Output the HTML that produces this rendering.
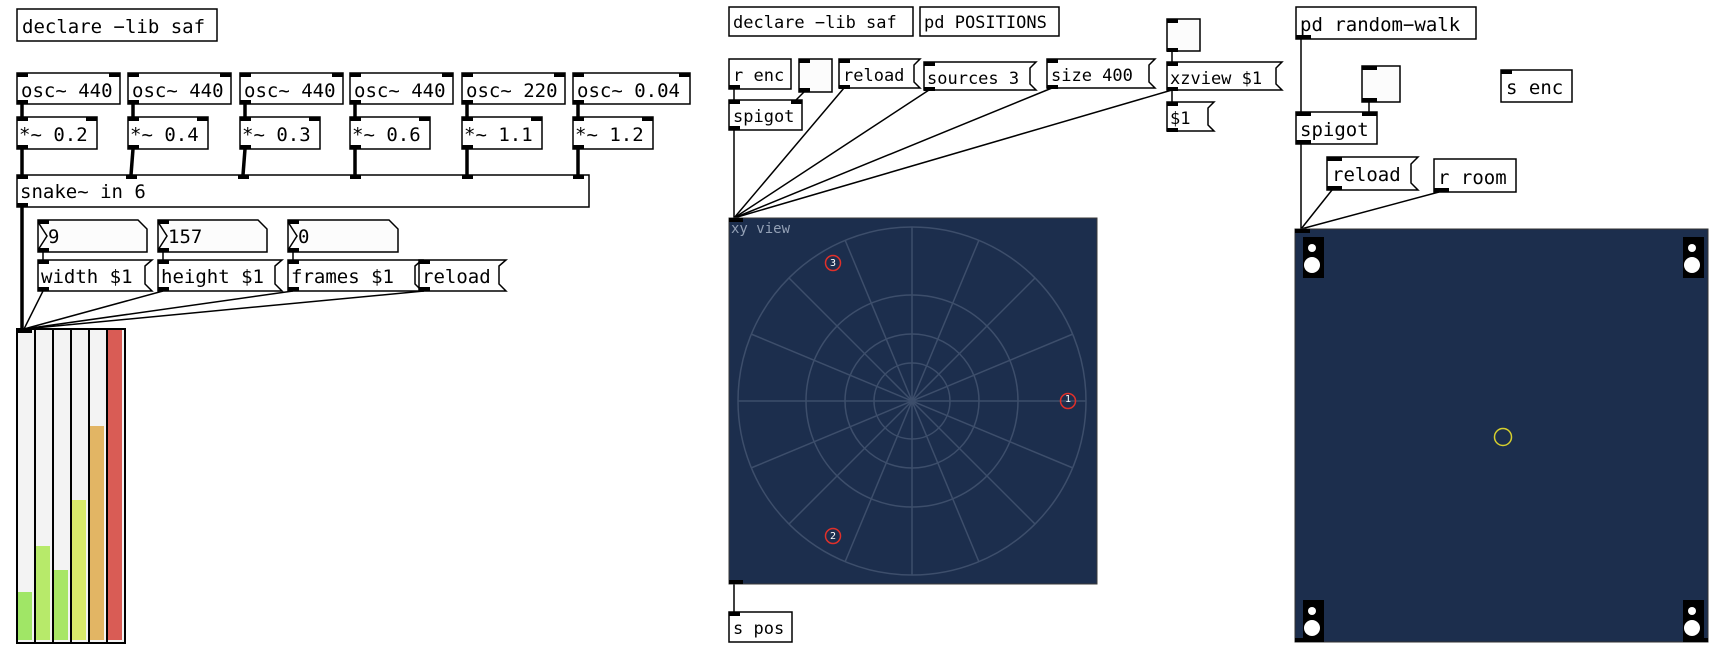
<!DOCTYPE html>
<html><head><meta charset="utf-8"><style>
html,body{margin:0;padding:0;background:#fff;width:1725px;height:656px;overflow:hidden}
text{font-family:"DejaVu Sans Mono","Liberation Mono",monospace;fill:#000}
.b{fill:#fff;stroke:#000;stroke-width:1.5}
.t{fill:#fcfcfc;stroke:#000;stroke-width:1.5}
.io{fill:#000}
.c{stroke:#000;stroke-width:1.5;fill:none}
.s{stroke:#000;stroke-width:3.5;fill:none}
.g{stroke:#3d4e6b;stroke-width:1.5;fill:none}
</style></head><body>
<svg width="1725" height="656" viewBox="0 0 1725 656" xmlns="http://www.w3.org/2000/svg">
<!-- ============ LEFT ============ -->
<rect class="b" x="17" y="9" width="200" height="32"/>
<text x="22" y="33" font-size="19">declare −lib saf</text>

<g font-size="19">
<rect class="b" x="17" y="73" width="103" height="31"/><text x="21" y="97">osc~ 440</text>
<rect class="b" x="128" y="73" width="103" height="31"/><text x="132" y="97">osc~ 440</text>
<rect class="b" x="240" y="73" width="103" height="31"/><text x="244" y="97">osc~ 440</text>
<rect class="b" x="350" y="73" width="103" height="31"/><text x="354" y="97">osc~ 440</text>
<rect class="b" x="462" y="73" width="103" height="31"/><text x="466" y="97">osc~ 220</text>
<rect class="b" x="573" y="73" width="117" height="31"/><text x="577" y="97">osc~ 0.04</text>
</g>
<g class="io">
<rect x="17" y="73" width="11" height="4"/><rect x="109" y="73" width="11" height="4"/><rect x="17" y="100" width="11" height="4"/>
<rect x="128" y="73" width="11" height="4"/><rect x="220" y="73" width="11" height="4"/><rect x="128" y="100" width="11" height="4"/>
<rect x="240" y="73" width="11" height="4"/><rect x="332" y="73" width="11" height="4"/><rect x="240" y="100" width="11" height="4"/>
<rect x="350" y="73" width="11" height="4"/><rect x="442" y="73" width="11" height="4"/><rect x="350" y="100" width="11" height="4"/>
<rect x="462" y="73" width="11" height="4"/><rect x="554" y="73" width="11" height="4"/><rect x="462" y="100" width="11" height="4"/>
<rect x="573" y="73" width="11" height="4"/><rect x="679" y="73" width="11" height="4"/><rect x="573" y="100" width="11" height="4"/>
</g>
<g font-size="19">
<rect class="b" x="17" y="117" width="80" height="32"/><text x="19" y="141">*~ 0.2</text>
<rect class="b" x="128" y="117" width="80" height="32"/><text x="130" y="141">*~ 0.4</text>
<rect class="b" x="240" y="117" width="80" height="32"/><text x="242" y="141">*~ 0.3</text>
<rect class="b" x="350" y="117" width="80" height="32"/><text x="352" y="141">*~ 0.6</text>
<rect class="b" x="462" y="117" width="80" height="32"/><text x="464" y="141">*~ 1.1</text>
<rect class="b" x="573" y="117" width="80" height="32"/><text x="575" y="141">*~ 1.2</text>
</g>
<g class="io">
<rect x="17" y="117" width="11" height="4"/><rect x="86" y="117" width="11" height="4"/><rect x="17" y="145" width="11" height="4"/>
<rect x="128" y="117" width="11" height="4"/><rect x="197" y="117" width="11" height="4"/><rect x="128" y="145" width="11" height="4"/>
<rect x="240" y="117" width="11" height="4"/><rect x="309" y="117" width="11" height="4"/><rect x="240" y="145" width="11" height="4"/>
<rect x="350" y="117" width="11" height="4"/><rect x="419" y="117" width="11" height="4"/><rect x="350" y="145" width="11" height="4"/>
<rect x="462" y="117" width="11" height="4"/><rect x="531" y="117" width="11" height="4"/><rect x="462" y="145" width="11" height="4"/>
<rect x="573" y="117" width="11" height="4"/><rect x="642" y="117" width="11" height="4"/><rect x="573" y="145" width="11" height="4"/>
</g>
<g class="s">
<line x1="22" y1="104" x2="22" y2="117"/><line x1="133" y1="104" x2="133" y2="117"/><line x1="245" y1="104" x2="245" y2="117"/>
<line x1="355" y1="104" x2="355" y2="117"/><line x1="467" y1="104" x2="467" y2="117"/><line x1="578" y1="104" x2="578" y2="117"/>
<line x1="22" y1="149" x2="22" y2="175"/><line x1="133" y1="149" x2="131" y2="175"/><line x1="245" y1="149" x2="243" y2="175"/>
<line x1="355" y1="149" x2="355" y2="175"/><line x1="467" y1="149" x2="467" y2="175"/><line x1="578" y1="149" x2="578" y2="175"/>
<line x1="22" y1="207" x2="22" y2="329"/>
</g>
<rect class="b" x="17" y="175" width="572" height="32"/>
<text x="20" y="198" font-size="19">snake~ in 6</text>
<g class="io">
<rect x="17" y="175" width="11" height="4"/><rect x="126" y="175" width="11" height="4"/><rect x="238" y="175" width="11" height="4"/>
<rect x="350" y="175" width="11" height="4"/><rect x="462" y="175" width="11" height="4"/><rect x="573" y="175" width="11" height="4"/>
<rect x="17" y="203" width="11" height="4"/>
</g>
<g font-size="19">
<path class="t" d="M38 220 H138 L147 229 V252 H38 Z"/><path class="c" d="M38 222 L47 236 L38 250"/><text x="48" y="243">9</text>
<path class="t" d="M158 220 H258 L267 229 V252 H158 Z"/><path class="c" d="M158 222 L167 236 L158 250"/><text x="168" y="243">157</text>
<path class="t" d="M288 220 H389 L398 229 V252 H288 Z"/><path class="c" d="M288 222 L297 236 L288 250"/><text x="298" y="243">0</text>
</g>
<g class="c">
<line x1="43" y1="252" x2="43" y2="260"/><line x1="163" y1="252" x2="163" y2="260"/><line x1="293" y1="252" x2="293" y2="260"/>
</g>
<g font-size="19">
<path class="b" d="M38 260 H152 L145 266 V284 L152 291 H38 Z"/><text x="41" y="283">width $1</text>
<path class="b" d="M158 260 H282 L275 266 V284 L282 291 H158 Z"/><text x="161" y="283">height $1</text>
<path class="b" d="M288 260 H422 L415 266 V284 L422 291 H288 Z"/><text x="291" y="283">frames $1</text>
<path class="b" d="M419 260 H506 L499 266 V284 L506 291 H419 Z"/><text x="422" y="283">reload</text>
</g>
<g class="io">
<rect x="38" y="220" width="11" height="4"/><rect x="38" y="248" width="11" height="4"/>
<rect x="158" y="220" width="11" height="4"/><rect x="158" y="248" width="11" height="4"/>
<rect x="288" y="220" width="11" height="4"/><rect x="288" y="248" width="11" height="4"/>
<rect x="38" y="260" width="11" height="4"/><rect x="38" y="287" width="11" height="4"/>
<rect x="158" y="260" width="11" height="4"/><rect x="158" y="287" width="11" height="4"/>
<rect x="288" y="260" width="11" height="4"/><rect x="288" y="287" width="11" height="4"/>
<rect x="419" y="260" width="11" height="4"/><rect x="419" y="287" width="11" height="4"/>
</g>
<g class="c">
<line x1="43" y1="291" x2="24" y2="329"/><line x1="163" y1="291" x2="24" y2="329"/>
<line x1="293" y1="291" x2="24" y2="329"/><line x1="424" y1="291" x2="24" y2="329"/>
</g>
<rect x="17" y="329" width="108" height="314" fill="#f3f3f3" stroke="#000" stroke-width="2"/>
<rect x="18" y="592" width="14" height="48" fill="#a0e666"/>
<rect x="36" y="546" width="14" height="94" fill="#b7ea6a"/>
<rect x="54" y="570" width="14" height="70" fill="#a8e666"/>
<rect x="72" y="500" width="14" height="140" fill="#d9ea6a"/>
<rect x="90" y="426" width="14" height="214" fill="#e2b564"/>
<rect x="108" y="330" width="14" height="310" fill="#d95c55"/>
<g stroke="#000" stroke-width="2"><line x1="35" y1="329" x2="35" y2="643"/><line x1="53" y1="329" x2="53" y2="643"/><line x1="71" y1="329" x2="71" y2="643"/><line x1="89" y1="329" x2="89" y2="643"/><line x1="107" y1="329" x2="107" y2="643"/></g>
<rect class="io" x="17" y="329" width="15" height="4"/>

<!-- ============ MIDDLE ============ -->
<g font-size="17">
<rect class="b" x="729" y="7" width="184" height="29"/><text x="733" y="28">declare −lib saf</text>
<rect class="b" x="920" y="7" width="139" height="29"/><text x="924" y="28">pd POSITIONS</text>
<rect class="b" x="729" y="59" width="62" height="30"/><text x="733" y="81">r enc</text>
<rect class="t" x="799" y="59" width="33" height="33"/>
<path class="b" d="M839 59 H920 L914 65 V82 L920 88 H839 Z"/><text x="843" y="81">reload</text>
<path class="b" d="M924 62 H1036 L1030 68 V84 L1036 90 H924 Z"/><text x="927" y="84">sources 3</text>
<path class="b" d="M1047 59 H1155 L1149 65 V82 L1155 88 H1047 Z"/><text x="1051" y="81">size 400</text>
<rect class="t" x="1167" y="19" width="33" height="32"/>
<path class="b" d="M1167 62 H1282 L1276 68 V84 L1282 90 H1167 Z"/><text x="1170" y="84">xzview $1</text>
<path class="b" d="M1167 102 H1214 L1208 108 V125 L1214 131 H1167 Z"/><text x="1170" y="124">$1</text>
<rect class="b" x="729" y="100" width="73" height="30"/><text x="733" y="122">spigot</text>
<rect class="b" x="729" y="612" width="63" height="30"/><text x="733" y="634">s pos</text>
</g>
<g class="io">
<rect x="729" y="85" width="11" height="4"/>
<rect x="799" y="59" width="11" height="4"/><rect x="799" y="88" width="11" height="4"/>
<rect x="839" y="59" width="11" height="4"/><rect x="839" y="85" width="11" height="4"/>
<rect x="924" y="62" width="11" height="4"/><rect x="924" y="87" width="11" height="4"/>
<rect x="1047" y="59" width="11" height="4"/><rect x="1047" y="85" width="11" height="4"/>
<rect x="1167" y="19" width="11" height="4"/><rect x="1167" y="48" width="11" height="4"/>
<rect x="1167" y="62" width="11" height="4"/><rect x="1167" y="87" width="11" height="4"/>
<rect x="1167" y="102" width="11" height="4"/><rect x="1167" y="128" width="11" height="4"/>
<rect x="729" y="100" width="11" height="4"/><rect x="791" y="100" width="11" height="4"/><rect x="729" y="126" width="11" height="4"/>
<rect x="729" y="612" width="11" height="4"/>
</g>
<g class="c">
<line x1="734" y1="89" x2="734" y2="100"/>
<line x1="804" y1="92" x2="796" y2="100"/>
<line x1="734" y1="130" x2="734" y2="218"/>
<line x1="844" y1="88" x2="734" y2="218"/>
<line x1="929" y1="90" x2="734" y2="218"/>
<line x1="1052" y1="88" x2="734" y2="218"/>
<line x1="1172" y1="90" x2="734" y2="218"/>
<line x1="1172" y1="51" x2="1172" y2="62"/>
<line x1="1172" y1="90" x2="1172" y2="102"/>
<line x1="734" y1="584" x2="734" y2="612"/>
</g>
<rect x="729" y="218" width="368" height="366" fill="#1c2e4d" stroke="#3a3a3a" stroke-width="1"/>
<circle cx="912" cy="401" r="174" fill="#223453" class="g"/>
<circle cx="912" cy="401" r="106" class="g"/>
<circle cx="912" cy="401" r="67" class="g"/>
<circle cx="912" cy="401" r="38" class="g"/>
<g class="g">
<line x1="738" y1="401" x2="1086" y2="401"/>
<line x1="912" y1="227" x2="912" y2="575"/>
<line x1="751" y1="334" x2="1073" y2="468"/>
<line x1="751" y1="468" x2="1073" y2="334"/>
<line x1="789" y1="278" x2="1035" y2="524"/>
<line x1="789" y1="524" x2="1035" y2="278"/>
<line x1="845" y1="240" x2="979" y2="562"/>
<line x1="845" y1="562" x2="979" y2="240"/>
</g>
<text x="731" y="233" font-size="14" style="fill:#93a0b5">xy view</text>
<g fill="none" stroke="#e0302a" stroke-width="1.5">
<circle cx="833" cy="263" r="7.5"/><circle cx="1068" cy="401" r="7.5"/><circle cx="833" cy="536" r="7.5"/>
</g>
<g font-size="10" text-anchor="middle">
<text x="833" y="266" style="fill:#fff">3</text><text x="1068" y="402" style="fill:#fff">1</text><text x="833" y="539" style="fill:#fff">2</text>
</g>
<rect class="io" x="729" y="218" width="14" height="4"/>
<rect class="io" x="729" y="580" width="14" height="4"/>

<!-- ============ RIGHT ============ -->
<g font-size="19">
<rect class="b" x="1296" y="7" width="180" height="32"/><text x="1300" y="31">pd random−walk</text>
<rect class="t" x="1362" y="66" width="38" height="36"/>
<rect class="b" x="1501" y="70" width="71" height="32"/><text x="1506" y="94">s enc</text>
<rect class="b" x="1296" y="112" width="81" height="32"/><text x="1300" y="136">spigot</text>
<path class="b" d="M1327 157 H1418 L1411 164 V183 L1418 190 H1327 Z"/><text x="1332" y="181">reload</text>
<rect class="b" x="1434" y="159" width="82" height="33"/><text x="1438" y="184">r room</text>
</g>
<g class="io">
<rect x="1296" y="35" width="15" height="4"/>
<rect x="1362" y="66" width="15" height="4"/><rect x="1362" y="98" width="15" height="4"/>
<rect x="1501" y="70" width="11" height="4"/>
<rect x="1296" y="112" width="15" height="4"/><rect x="1362" y="112" width="15" height="4"/><rect x="1296" y="140" width="15" height="4"/>
<rect x="1327" y="157" width="15" height="4"/><rect x="1327" y="186" width="15" height="4"/>
<rect x="1434" y="188" width="15" height="4"/>
</g>
<g class="c">
<line x1="1301" y1="39" x2="1301" y2="112"/>
<line x1="1369" y1="102" x2="1369" y2="112"/>
<line x1="1301" y1="144" x2="1301" y2="229"/>
<line x1="1332" y1="190" x2="1301" y2="229"/>
<line x1="1439" y1="192" x2="1301" y2="229"/>
</g>
<rect x="1295" y="229" width="413" height="413" fill="#1c2e4d" stroke="#333" stroke-width="1"/>
<rect class="io" x="1295" y="229" width="15" height="4"/>
<rect class="io" x="1295" y="638" width="15" height="4"/>
<rect class="io" x="1693" y="638" width="15" height="4"/>
<g>
<rect x="1303" y="237" width="21" height="41" fill="#000"/><circle cx="1312" cy="248" r="4" fill="#fff"/><circle cx="1312" cy="265" r="8" fill="#fff"/>
<rect x="1683" y="237" width="21" height="41" fill="#000"/><circle cx="1692" cy="248" r="4" fill="#fff"/><circle cx="1692" cy="265" r="8" fill="#fff"/>
<rect x="1303" y="600" width="21" height="42" fill="#000"/><circle cx="1312" cy="611" r="4" fill="#fff"/><circle cx="1312" cy="628" r="8" fill="#fff"/>
<rect x="1683" y="600" width="21" height="42" fill="#000"/><circle cx="1692" cy="611" r="4" fill="#fff"/><circle cx="1692" cy="628" r="8" fill="#fff"/>
</g>
<circle cx="1503" cy="437" r="8.5" fill="none" stroke="#d6cf2e" stroke-width="1.5"/>
</svg>
</body></html>
